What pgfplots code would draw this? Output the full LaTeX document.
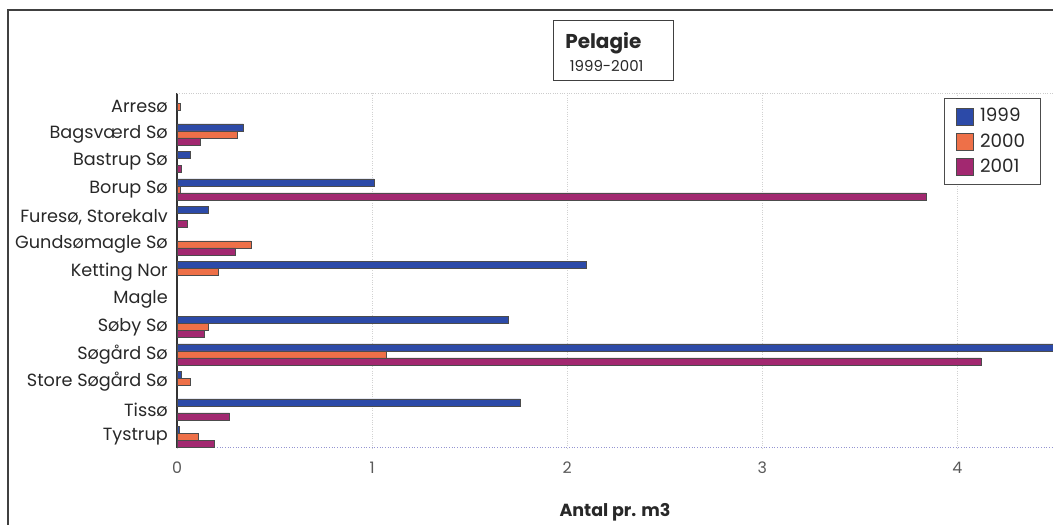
\documentclass[border=0pt]{standalone}
\usepackage{fontspec}
\setmainfont{Poppins}
\usepackage{pgfplots}
\pgfplotsset{compat=1.18}

\definecolor{c1999}{RGB}{44,74,168}
\definecolor{c2000}{RGB}{238,112,72}
\definecolor{c2001}{RGB}{162,40,112}
\definecolor{txt}{RGB}{40,40,40}

\begin{document}
\begin{tikzpicture}
% page extent
\path[use as bounding box] (0,0) rectangle (631.8pt,315pt);
% outer frame
\draw[line width=0.9pt, black!75] (4.8pt,0) -- (4.8pt,309pt) -- (631.8pt,309pt);

\begin{axis}[
  at={(106.2pt,46.2pt)}, anchor=south west,
  scale only axis,
  width=525.6pt, height=213pt,
  xbar=0pt, bar width=4.2pt,
  xmin=0, xmax=4.49,
  ymin=-0.5, ymax=12.4,
  y dir=reverse,
  ytick={0,...,12},
  yticklabels={Arresø, Bagsværd Sø, Bastrup Sø, Borup Sø, {Furesø, Storekalv}, Gundsømagle Sø, Ketting Nor, Magle, Søby Sø, Søgård Sø, Store Søgård Sø, Tissø, Tystrup},
  xtick={0,1,2,3,4},
  major tick length=0pt,
  /pgf/number format/assume math mode=true,
  xticklabel style={font=\fontsize{9.5}{11}\selectfont, text=black!65, yshift=-5pt},
  yticklabel style={font=\fontsize{10.6}{12}\selectfont, text=txt, xshift=-2pt},
  xlabel={\textbf{Antal pr. m3}},
  xlabel style={font=\fontsize{10.5}{12}\selectfont, text=txt, yshift=-11pt},
  axis x line*=bottom, axis y line*=left,
  x axis line style={-, gray!60!blue!60, line width=0.6pt, densely dotted},
  y axis line style={-, black!80, line width=0.8pt},
  xmajorgrids, major grid style={densely dotted, gray!35},
  legend style={at={(0.8756,0.986)}, anchor=north west,
    draw=black!70, line width=0.6pt,
    font=\fontsize{11}{13}\selectfont, text=txt,
    row sep=1.5pt, inner xsep=7pt, inner ysep=4pt},
  legend cell align=left,
  legend image code/.code={\fill[#1] (0pt,-5pt) rectangle (10pt,5pt); \path (12pt,0pt);},
  clip=true,
]
\addplot[fill=c1999, draw=black!70, line width=0.3pt, bar shift=4.2pt] coordinates {
  (0.34,1) (0.07,2) (1.01,3) (0.16,4) (2.10,6) (1.70,8) (4.60,9) (0.02,10) (1.76,11) (0.01,12)};
\addplot[fill=c2000, draw=black!70, line width=0.3pt, bar shift=0pt] coordinates {
  (0.015,0) (0.31,1) (0.015,3) (0.38,5) (0.21,6) (0.16,8) (1.07,9) (0.07,10) (0.11,12)};
\addplot[fill=c2001, draw=black!70, line width=0.3pt, bar shift=-4.2pt] coordinates {
  (0.12,1) (0.02,2) (3.84,3) (0.05,4) (0.30,5) (0.14,8) (4.12,9) (0.27,11) (0.19,12)};
\legend{1999,2000,2001}
\draw[densely dotted, gray!40] (rel axis cs:0,1) -- (rel axis cs:1,1);
\end{axis}

% title box
\draw[black!75, line width=0.6pt, fill=white] (331.8pt,266.4pt) rectangle (403.8pt,302.4pt);
\node[font=\fontsize{12}{14}\selectfont\bfseries, text=txt] at (362pt,289pt) {Pelagie};
\node[font=\fontsize{9}{11}\selectfont, text=txt] at (364pt,275.5pt) {1999-2001};
\end{tikzpicture}
\end{document}
